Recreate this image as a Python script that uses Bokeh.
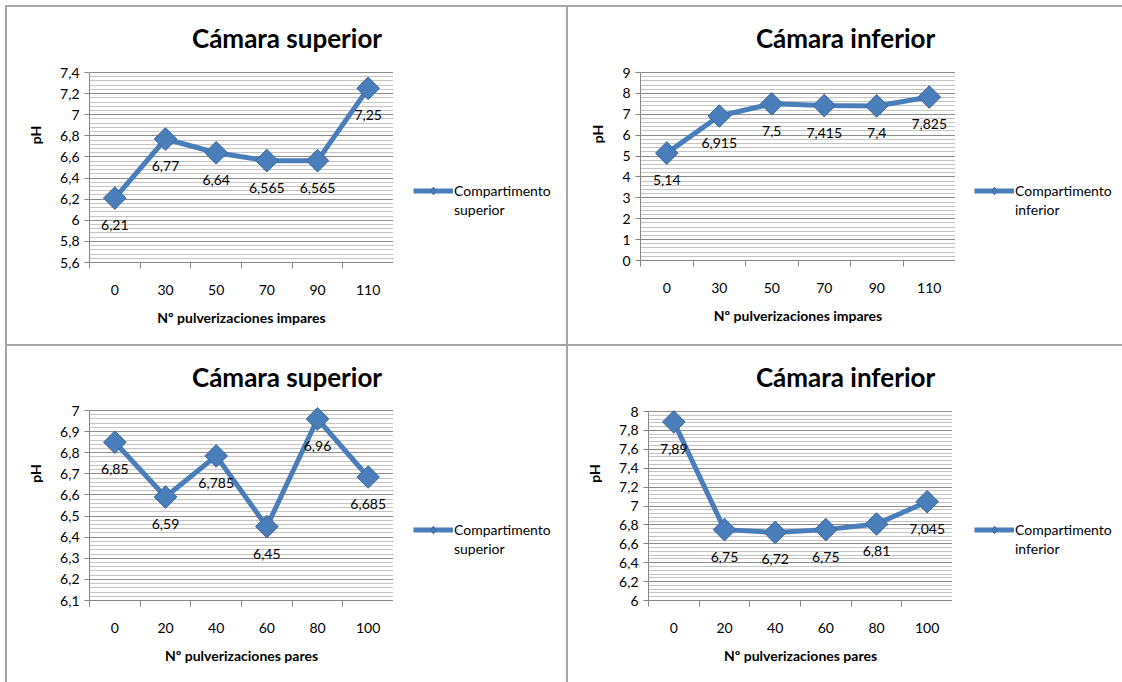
import numpy as np
from bokeh.plotting import figure
from bokeh.models import (Range1d, FixedTicker, CustomJSTickFormatter, Label,
                          Legend, LegendItem)
from bokeh.layouts import row, column
from bokeh.embed import file_html
from bokeh.resources import INLINE
from bokeh.core.properties import value

# --- data -------------------------------------------------------------
odd_sprays = ["0", "30", "50", "70", "90", "110"]
even_sprays = ["0", "20", "40", "60", "80", "100"]

ph_upper_odd = [6.21, 6.77, 6.64, 6.565, 6.565, 7.25]
ph_lower_odd = [5.14, 6.915, 7.5, 7.415, 7.4, 7.825]
ph_upper_even = [6.85, 6.59, 6.785, 6.45, 6.96, 6.685]
ph_lower_even = [7.89, 6.75, 6.72, 6.75, 6.81, 7.045]

# --- style ------------------------------------------------------------
FONT = "Lato"
SERIES = "#4a7ebb"
MARKER_EDGE = "#3b6699"
AXIS_GRAY = "#868686"
MAJOR_GRID = "#8c8c8c"
MINOR_GRID = "#c4c4c4"
BORDER_GRAY = "#a6a6a6"


def comma(v):
    return str(v).replace(".", ",")


def make_cell(cats, vals, title, xlabel, legend_second, ymin, ymax, step,
              width, height, left, bottom, plot_w, plot_top, leg_x, leg_y):
    """One chart cell: the chart itself plus a narrow legend strip on its
    right.  The chart frame reaches the top of the cell so the title sits
    inside it; the value axis is bounded to [ymin, ymax]."""
    n = len(cats)
    chart_w = left + plot_w
    frame_h = height - bottom
    plot_h = frame_h - plot_top
    y_end = ymin + (ymax - ymin) * frame_h / plot_h

    p = figure(width=chart_w, height=height, title=None,
               x_range=Range1d(0, n), y_range=Range1d(ymin, y_end),
               output_backend="svg", toolbar_location=None,
               min_border_left=left, min_border_right=0,
               min_border_top=0, min_border_bottom=bottom)
    p.outline_line_color = None
    p.background_fill_color = "white"
    p.border_fill_color = "white"

    # category slots: labels at slot centres, tick marks at slot edges
    centers = [i + 0.5 for i in range(n)]
    p.xaxis.ticker = FixedTicker(ticks=centers, minor_ticks=list(range(n + 1)))
    p.xaxis.formatter = CustomJSTickFormatter(
        args=dict(labels=cats), code="return labels[Math.floor(tick)];")
    p.xaxis.major_tick_line_color = None
    p.xaxis.major_tick_out = 0
    p.xaxis.major_tick_in = 0
    p.xaxis.minor_tick_line_color = AXIS_GRAY
    p.xaxis.minor_tick_out = 6
    p.xaxis.minor_tick_in = 0
    p.xaxis.major_label_standoff = 16
    p.xaxis.axis_label = xlabel
    p.xaxis.axis_label_standoff = 11
    p.xgrid.visible = False

    nmaj = int(round((ymax - ymin) / step))
    majors = [round(ymin + i * step, 4) for i in range(nmaj + 1)]
    minors = [round(ymin + i * step / 5, 4) for i in range(nmaj * 5 + 1)]
    p.yaxis.ticker = FixedTicker(ticks=majors, minor_ticks=minors)
    p.yaxis.bounds = (ymin, ymax)
    p.yaxis.formatter = CustomJSTickFormatter(
        code="return (Math.round(tick*1000)/1000).toString().replace('.', ',');")
    p.yaxis.major_tick_line_color = AXIS_GRAY
    p.yaxis.major_tick_out = 5
    p.yaxis.major_tick_in = 0
    p.yaxis.minor_tick_line_color = None
    p.yaxis.major_label_standoff = 5
    p.yaxis.axis_label = "pH"
    p.yaxis.axis_label_standoff = 13

    for ax in (p.xaxis[0], p.yaxis[0]):
        ax.axis_line_color = AXIS_GRAY
        ax.major_label_text_font = FONT
        ax.major_label_text_font_size = "14px"
        ax.major_label_text_color = "black"
        ax.axis_label_text_font = FONT
        ax.axis_label_text_font_size = "14px"
        ax.axis_label_text_font_style = "bold"
        ax.axis_label_text_color = "black"

    p.ygrid.grid_line_color = MAJOR_GRID
    p.ygrid.minor_grid_line_color = MINOR_GRID

    p.line(centers, vals, line_width=5, line_color=SERIES, line_join="round")
    p.scatter(centers, vals, marker="square", angle=np.pi / 4, size=16,
              fill_color=SERIES, line_color=MARKER_EDGE, line_width=1)
    p.text(centers, vals, text=[comma(v) for v in vals], y_offset=27,
           text_align="center", text_baseline="middle",
           text_font=value(FONT), text_font_size="14px", text_color="black")

    # chart title, centred on the whole chart cell
    p.add_layout(Label(x=width / 2 - left, y=frame_h - 30,
                       x_units="screen", y_units="screen", text=title,
                       text_align="center", text_baseline="middle",
                       text_font=FONT, text_font_size="26px",
                       text_font_style="bold", text_color="black"))

    # legend strip: the series is drawn again but lies outside its ranges,
    # so only the legend entry shows
    lg = figure(width=width - chart_w, height=height, title=None,
                x_range=Range1d(-2, -1), y_range=Range1d(-2, -1),
                output_backend="svg", toolbar_location=None,
                min_border_left=0, min_border_right=0,
                min_border_top=0, min_border_bottom=0)
    lg.axis.visible = False
    lg.grid.visible = False
    lg.outline_line_color = None
    lg.background_fill_color = "white"
    lg.border_fill_color = "white"
    lg_line = lg.line(centers, vals, line_width=5, line_color=SERIES)
    lg_mark = lg.scatter(centers, vals, marker="diamond", size=16,
                         fill_color=SERIES, line_color=MARKER_EDGE)
    lg_blank = lg.line(centers, vals, line_alpha=0)
    legend = Legend(items=[LegendItem(label="Compartimento",
                                      renderers=[lg_line, lg_mark]),
                           LegendItem(label=legend_second,
                                      renderers=[lg_blank])],
                    location=(leg_x, leg_y))
    legend.label_text_font = FONT
    legend.label_text_font_size = "14px"
    legend.label_text_color = "black"
    legend.border_line_color = None
    legend.background_fill_alpha = 0
    legend.padding = 0
    legend.margin = 0
    legend.spacing = 0
    legend.glyph_width = 40
    legend.glyph_height = 19
    legend.label_height = 19
    legend.label_standoff = 1
    lg.add_layout(legend)
    return row(p, lg, spacing=0, styles={"background-color": "white"})


c1 = make_cell(odd_sprays, ph_upper_odd, "Cámara superior",
               "Nº pulverizaciones impares", "superior",
               5.6, 7.4, 0.2, 559, 337, 82, 82, 304, 65, 20, 43.5)
c2 = make_cell(odd_sprays, ph_lower_odd, "Cámara inferior",
               "Nº pulverizaciones impares", "inferior",
               0, 9, 1, 554, 337, 72, 84, 315, 65, 19, 41.5)
c3 = make_cell(even_sprays, ph_upper_even, "Cámara superior",
               "Nº pulverizaciones pares", "superior",
               6.1, 7.0, 0.1, 559, 336, 82, 82, 304, 64, 20, 42.5)
c4 = make_cell(even_sprays, ph_lower_even, "Cámara inferior",
               "Nº pulverizaciones pares", "inferior",
               6.0, 8.0, 0.2, 554, 336, 80, 82, 304, 65, 22, 42.5)

layout = column(row(c1, c2, spacing=2), row(c3, c4, spacing=2), spacing=2,
                margin=(5, 0, 0, 5),
                styles={"background-color": BORDER_GRAY,
                        "padding": "2px 0 0 2px"})

open("out.html", "w").write(file_html(layout, INLINE))
